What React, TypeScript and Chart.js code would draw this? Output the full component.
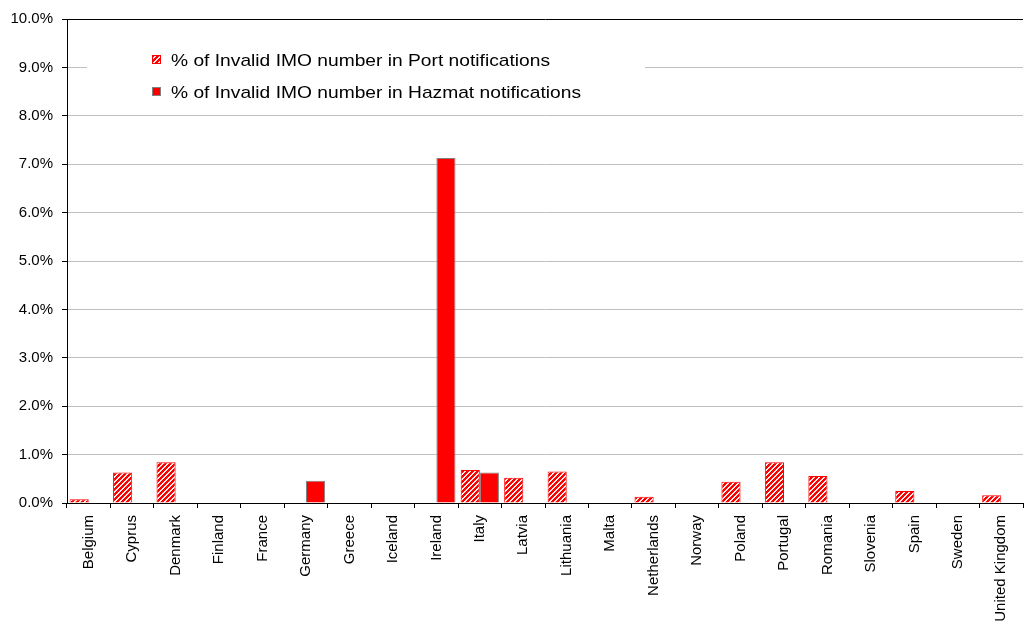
import React, { useEffect, useRef } from "react";
import { Chart, registerables } from "chart.js";

Chart.register(...registerables);

const countries = [
  "Belgium", "Cyprus", "Denmark", "Finland", "France", "Germany", "Greece", "Iceland",
  "Ireland", "Italy", "Latvia", "Lithuania", "Malta", "Netherlands", "Norway", "Poland",
  "Portugal", "Romania", "Slovenia", "Spain", "Sweden", "United Kingdom",
];

const portValues = [
  0.08, 0.63, 0.84, 0, 0, 0, 0, 0, 0, 0.68, 0.52, 0.65, 0, 0.13, 0, 0.44, 0.84, 0.56, 0, 0.25, 0, 0.16,
];

const hazmatValues = [
  0, 0, 0, 0, 0, 0.46, 0, 0, 7.13, 0.63, 0, 0, 0, 0, 0, 0, 0, 0, 0, 0, 0, 0,
];

const seriesLabels = [
  "% of Invalid IMO number in Port notifications",
  "% of Invalid IMO number in Hazmat notifications",
];

const yTicks = [0, 1, 2, 3, 4, 5, 6, 7, 8, 9, 10];

const FONT = "'Liberation Sans', Arial, Helvetica, sans-serif";

function makeHatch(): CanvasPattern | string {
  const c = document.createElement("canvas");
  const n = 5;
  c.width = n;
  c.height = n;
  const cx = c.getContext("2d");
  if (!cx) return "#FF0000";
  const img = cx.createImageData(n, n);
  for (let y = 0; y < n; y++) {
    for (let x = 0; x < n; x++) {
      const i = (y * n + x) * 4;
      const white = (x + y) % n < 2;
      img.data[i] = 255;
      img.data[i + 1] = white ? 235 : 0;
      img.data[i + 2] = white ? 235 : 0;
      img.data[i + 3] = 255;
    }
  }
  cx.putImageData(img, 0, 0);
  const p = cx.createPattern(c, "repeat");
  return p || "#FF0000";
}

const legendPlugin = {
  id: "boxLegend",
  afterDatasetsDraw(chart: any) {
    const ctx = chart.ctx as CanvasRenderingContext2D;
    ctx.save();
    ctx.fillStyle = "#FFFFFF";
    ctx.fillRect(87, 38, 558, 70);
    const ds = chart.data.datasets;
    const rows = [59, 91];
    ds.forEach((d: any, i: number) => {
      const cy = rows[i];
      ctx.fillStyle = d.backgroundColor;
      ctx.fillRect(152, cy - 4, 9, 9);
      ctx.strokeStyle = d.borderColor;
      ctx.lineWidth = 1;
      ctx.strokeRect(152.5, cy - 3.5, 8, 8);
      ctx.save();
      ctx.translate(171, cy + 7);
      ctx.scale(1.13, 1);
      ctx.fillStyle = "#000000";
      ctx.font = `17px ${FONT}`;
      ctx.textBaseline = "alphabetic";
      ctx.fillText(d.label, 0, 0);
      ctx.restore();
    });
    ctx.restore();
  },
};

export default function App() {
  const ref = useRef<HTMLCanvasElement | null>(null);

  useEffect(() => {
    document.body.style.margin = "0";
    const canvas = ref.current;
    if (!canvas) return;
    const hatch = makeHatch();
    const chart = new Chart(canvas, {
      type: "bar",
      data: {
        labels: countries,
        datasets: [
          {
            label: seriesLabels[0],
            data: portValues,
            backgroundColor: hatch as any,
            borderColor: "#FF0000",
            borderWidth: 1,
            categoryPercentage: 0.88,
            barPercentage: 1.0,
          },
          {
            label: seriesLabels[1],
            data: hazmatValues,
            backgroundColor: "#FF0000",
            borderColor: "#808080",
            borderWidth: 1,
            categoryPercentage: 0.88,
            barPercentage: 1.0,
          },
        ],
      },
      options: {
        responsive: false,
        animation: false,
        layout: { padding: { left: 0, right: 1, top: 19, bottom: 0 } },
        plugins: {
          legend: { display: false },
          tooltip: { enabled: false },
        },
        scales: {
          x: {
            grid: {
              offset: true,
              drawOnChartArea: false,
              drawTicks: true,
              tickLength: 5,
              tickColor: "#000000",
            },
            border: { color: "#000000", width: 1 },
            ticks: {
              color: "#000000",
              font: { family: FONT, size: 15 },
              minRotation: 90,
              maxRotation: 90,
              autoSkip: false,
              padding: 7,
            },
            afterFit(scale: any) {
              scale.height = 122;
              scale.paddingLeft = 0;
              scale.paddingRight = 0;
            },
          },
          y: {
            min: 0,
            max: 10,
            afterBuildTicks(scale: any) {
              scale.ticks = yTicks.map((v) => ({ value: v }));
            },
            grid: {
              color: (c: any) =>
                c.tick && (c.tick.value === 0 || c.tick.value === 10) ? "#000000" : "#C0C0C0",
              lineWidth: 1,
              drawTicks: true,
              tickLength: 5,
              tickColor: "#000000",
            },
            border: { color: "#000000", width: 1 },
            ticks: {
              color: "#000000",
              font: { family: FONT, size: 15 },
              padding: 9,
              callback: (v: any) => Number(v).toFixed(1) + "%",
            },
            afterFit(scale: any) {
              scale.width = 67;
            },
          },
        },
      },
      plugins: [legendPlugin],
    });
    return () => chart.destroy();
  }, []);

  return (
    <div style={{ position: "fixed", left: 0, top: 0, width: 1024, height: 625, background: "#FFFFFF" }}>
      <canvas ref={ref} width={1024} height={625} style={{ display: "block" }} />
    </div>
  );
}
